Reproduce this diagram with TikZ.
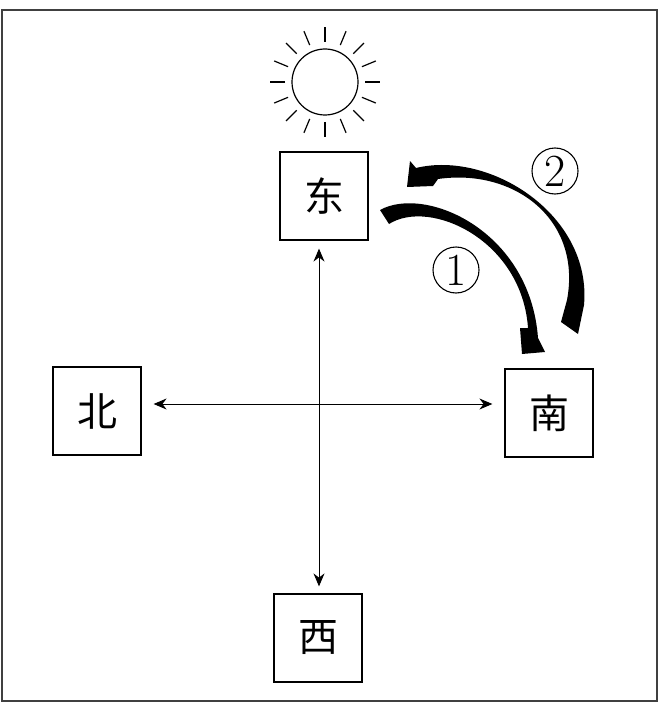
\documentclass[tikz,border=0pt]{standalone}
\usepackage{fontspec}
\newfontfamily\cjk{Noto Sans CJK SC}
\usetikzlibrary{arrows.meta}

\begin{document}
\begin{tikzpicture}[x=1pt, y=-1pt,
  dirbox/.style={draw, line width=1.2pt, minimum size=88pt, inner sep=0pt, font=\cjk\fontsize{40}{40}\selectfont},
  numring/.style={draw, circle, line width=1.1pt, minimum size=46pt, inner sep=0pt, font=\fontsize{46}{46}\selectfont},
  axis/.style={<->, >={Stealth[length=13pt, width=11pt]}, line width=1pt},
  bentarrow/.style={fill=black, draw=none}]
\useasboundingbox (0,0) rectangle (667,706);
\draw[line width=2pt, black!75] (2,10) rectangle (657,701);

% sun
\node[circle, draw, line width=1.2pt, minimum size=66pt, inner sep=0pt] (sun) at (325,82) {};
\foreach \a in {0,22.5,...,337.5}
  \draw[line width=1.2pt] ([shift={(\a:40pt)}]sun.center) -- ([shift={(\a:55pt)}]sun.center);

\node[dirbox] (dong) at (324,196) {东};
\node[dirbox] (bei) at (97,411) {北};
\node[dirbox] (nan) at (549,413) {南};
\node[dirbox] (xi) at (318,638) {西};
\coordinate (o) at (319,404);

\draw[axis, shorten <=12pt, shorten >=12pt] (bei.east |- o) -- (nan.west |- o);
\draw[axis, shorten <=8pt, shorten >=7pt] (dong.south -| o) -- (xi.north -| o);

% turning arrows
\fill[bentarrow] (380,210) .. controls (425,185) and (530,230) .. (538,338)
  -- (545,352) -- (522,354) -- (520,328) -- (528,328)
  .. controls (522,240) and (430,198) .. (389,224) -- cycle;
\fill[bentarrow] (410,161) -- (416,168) .. controls (490,150) and (592,215) .. (584,305)
  -- (578,334) -- (561,322) -- (567,300) .. controls (582,220) and (515,168) .. (438,179)
  -- (433,186) -- (407,187) -- cycle;

\node[numring] (one) at (456,270) {1};
\node[numring] (two) at (555,171) {2};
\end{tikzpicture}
\end{document}
